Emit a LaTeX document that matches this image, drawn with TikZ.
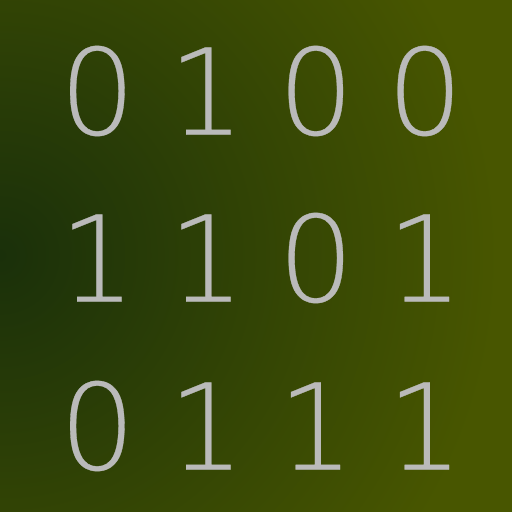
\documentclass[tikz,border=0pt]{standalone}
\usepackage{fontspec}
\newfontfamily\bitfont{DejaVu Sans ExtraLight}[
  BoldFont={DejaVu Sans ExtraLight}, BoldFeatures={FakeBold=0.25}]

\definecolor{bgdark}{RGB}{26,48,10}
\definecolor{bgolive}{RGB}{72,86,0}
\definecolor{bitgray}{RGB}{186,186,186}

% radial glow, dark at the centre, olive from about 500px out
\pgfdeclareradialshading{bgglow}{\pgfpoint{0bp}{0bp}}{%
  color(0bp)=(bgdark); color(283bp)=(bgolive); color(400bp)=(bgolive)}

\begin{document}
\begin{tikzpicture}[
    x=0.02cm, y=-0.02cm,
    bit/.style={text=bitgray, inner sep=0pt, anchor=center,
        font=\bitfont\bfseries\fontsize{68}{68}\selectfont}
]

% Background
\useasboundingbox (0,0) rectangle (512,512);
\begin{scope}
\clip (0,0) rectangle (512,512);
\node[inner sep=0pt] (glow) at (0,255) {\pgfuseshading{bgglow}};
\end{scope}

% Row 1
\node[bit] (b11) at (97.5,91) {0};
\node[bit] (b12) at (206.5,91) {1};
\node[bit] (b13) at (316,91) {0};
\node[bit] (b14) at (425,91) {0};

% Row 2
\node[bit] (b21) at (97.5,258) {1};
\node[bit] (b22) at (206.5,258) {1};
\node[bit] (b23) at (316,258) {0};
\node[bit] (b24) at (425,258) {1};

% Row 3
\node[bit] (b31) at (97.5,426) {0};
\node[bit] (b32) at (206.5,426) {1};
\node[bit] (b33) at (316,426) {1};
\node[bit] (b34) at (425,426) {1};

\end{tikzpicture}
\end{document}
